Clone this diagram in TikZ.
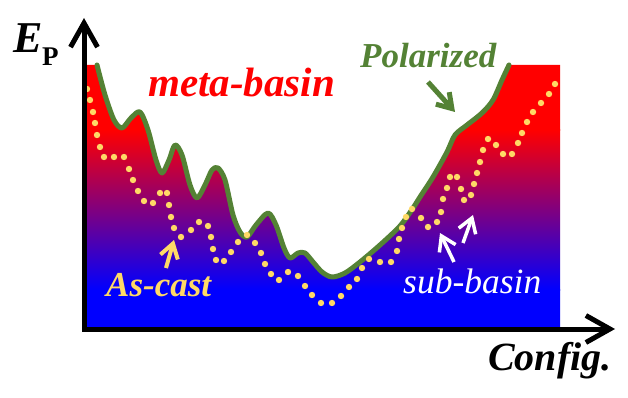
\documentclass[tikz,border=0pt]{standalone}
\usepackage{fontspec}
\setmainfont{Liberation Serif}
\usetikzlibrary{arrows.meta}
\definecolor{pgreen}{RGB}{84,130,53}
\definecolor{ygold}{RGB}{255,217,102}
\begin{document}
\begin{tikzpicture}[x=1pt,y=-1pt,
  axisline/.style={line width=5pt,black,-{Straight Barb[length=24pt,width=27pt,line width=5pt]}},
  callout/.style={line width=#1,-{Straight Barb[length=14pt,width=18pt,line width=#1]}},
  asdot/.style={fill=ygold},
  lbl/.style={inner sep=0pt,anchor=base west}]
\useasboundingbox (0,0) rectangle (628,398);
% gradient region below the polarized curve
\begin{scope}
\clip (84,65) -- (97,65) -- plot[smooth,tension=0.5] coordinates {(97,65)(105,95)(114,120)(122,128)(131,118)(140,112)(148,130)(156,160)(162,173)(169,160)(175,145)(182,155)(190,185)(197,198)(205,185)(212,170)(218,168)(225,180)(233,215)(240,232)(247,237)(256,225)(268,213)(276,225)(284,248)(290,258)(298,253)(305,253)(313,262)(322,272)(332,277)(345,273)(360,262)(380,245)(400,226)(413,208)(420,197)(433,177)(447,152)(455,135)(467,125)(482,113)(493,100)(502,80)(509,65)} -- (560,65) -- (560,327) -- (84,327) -- cycle;
\fill[red] (80,60) rectangle (565,131);
\fill[blue] (80,289) rectangle (565,330);
\shade[top color=red,bottom color=blue] (80,130) rectangle (565,290);
\end{scope}
% polarized curve
\draw[pgreen,line width=5pt,line cap=round,line join=round] plot[smooth,tension=0.5] coordinates {(97,65)(105,95)(114,120)(122,128)(131,118)(140,112)(148,130)(156,160)(162,173)(169,160)(175,145)(182,155)(190,185)(197,198)(205,185)(212,170)(218,168)(225,180)(233,215)(240,232)(247,237)(256,225)(268,213)(276,225)(284,248)(290,258)(298,253)(305,253)(313,262)(322,272)(332,277)(345,273)(360,262)(380,245)(400,226)(413,208)(420,197)(433,177)(447,152)(455,135)(467,125)(482,113)(493,100)(502,80)(509,65)};
% as-cast dotted line
\foreach \p in {(87,89),(90,100),(93,112),(95,123),(97,135),(100,147),(104,157),(114,157),(124,157),(129,169),(133,180),(138,191),(144,201),(153,203),(160,193),(167,193),(169,205),(171,217),(174,228),(181,237),(191,230),(199,222),(208,226),(211,237),(213,249),(216,260),(224,261),(231,252),(238,242),(247,235),(255,243),(261,253),(265,264),(271,274),(279,280),(288,272),(298,276),(305,286),(312,295),(321,303),(332,303),(341,296),(349,287),(357,279),(362,268),(369,259),(380,262),(391,262),(397,251),(399,239),(402,228),(406,217),(412,209),(421,218),(428,227),(437,222),(441,212),(443,199),(447,188),(450,177),(457,177),(461,189),(464,200),(471,195),(474,184),(477,173),(480,162),(483,150),(488,139),(496,145),(503,154),(512,154),(518,143),(522,133),(527,122),(533,112),(541,103),(549,94),(555,84)}
  \fill[asdot] \p circle (3.2pt);
% axes
\coordinate (o) at (84,329);
\coordinate (ytip) at (84,18);
\coordinate (xtip) at (615,329);
\coordinate (ostart) at (84,331);
\coordinate (xstart) at (82,329);
\draw[axisline] (ostart) -- (ytip);
\draw[axisline] (xstart) -- (xtip);
% labels
\node[lbl] (E) at (13,53) {\fontsize{44}{44}\selectfont\bfseries\itshape E};
\node[lbl] (P) at (42,66) {\fontsize{27}{27}\selectfont\bfseries P};
\node[lbl,text=red] (meta) at (148,97) {\fontsize{41}{41}\selectfont\bfseries\itshape meta-basin};
\node[lbl,text=pgreen] (pol) at (360,68) {\fontsize{35}{35}\selectfont\bfseries\itshape Polarized};
\node[lbl,text=ygold] (asc) at (106,296) {\fontsize{35}{35}\selectfont\bfseries\itshape As-cast};
\node[lbl,text=white] (sub) at (403,293) {\fontsize{35.5}{35.5}\selectfont\itshape sub-basin};
\node[lbl] (conf) at (488,370) {\fontsize{40}{40}\selectfont\bfseries\itshape Config.};
% callout arrows
\coordinate (pa) at (428,82);
\coordinate (pb) at (455,112);
\draw[pgreen,callout=5pt] (pa) -- (pb);
\coordinate (aa) at (166,268);
\coordinate (ab) at (174,240);
\draw[ygold,callout=4pt] (aa) -- (ab);
\coordinate (sa) at (454,262);
\coordinate (sb) at (440,233);
\draw[white,callout=3.5pt] (sa) -- (sb);
\coordinate (sc) at (463,243);
\coordinate (sd) at (473,215);
\draw[white,callout=3.5pt] (sc) -- (sd);
\end{tikzpicture}
\end{document}
